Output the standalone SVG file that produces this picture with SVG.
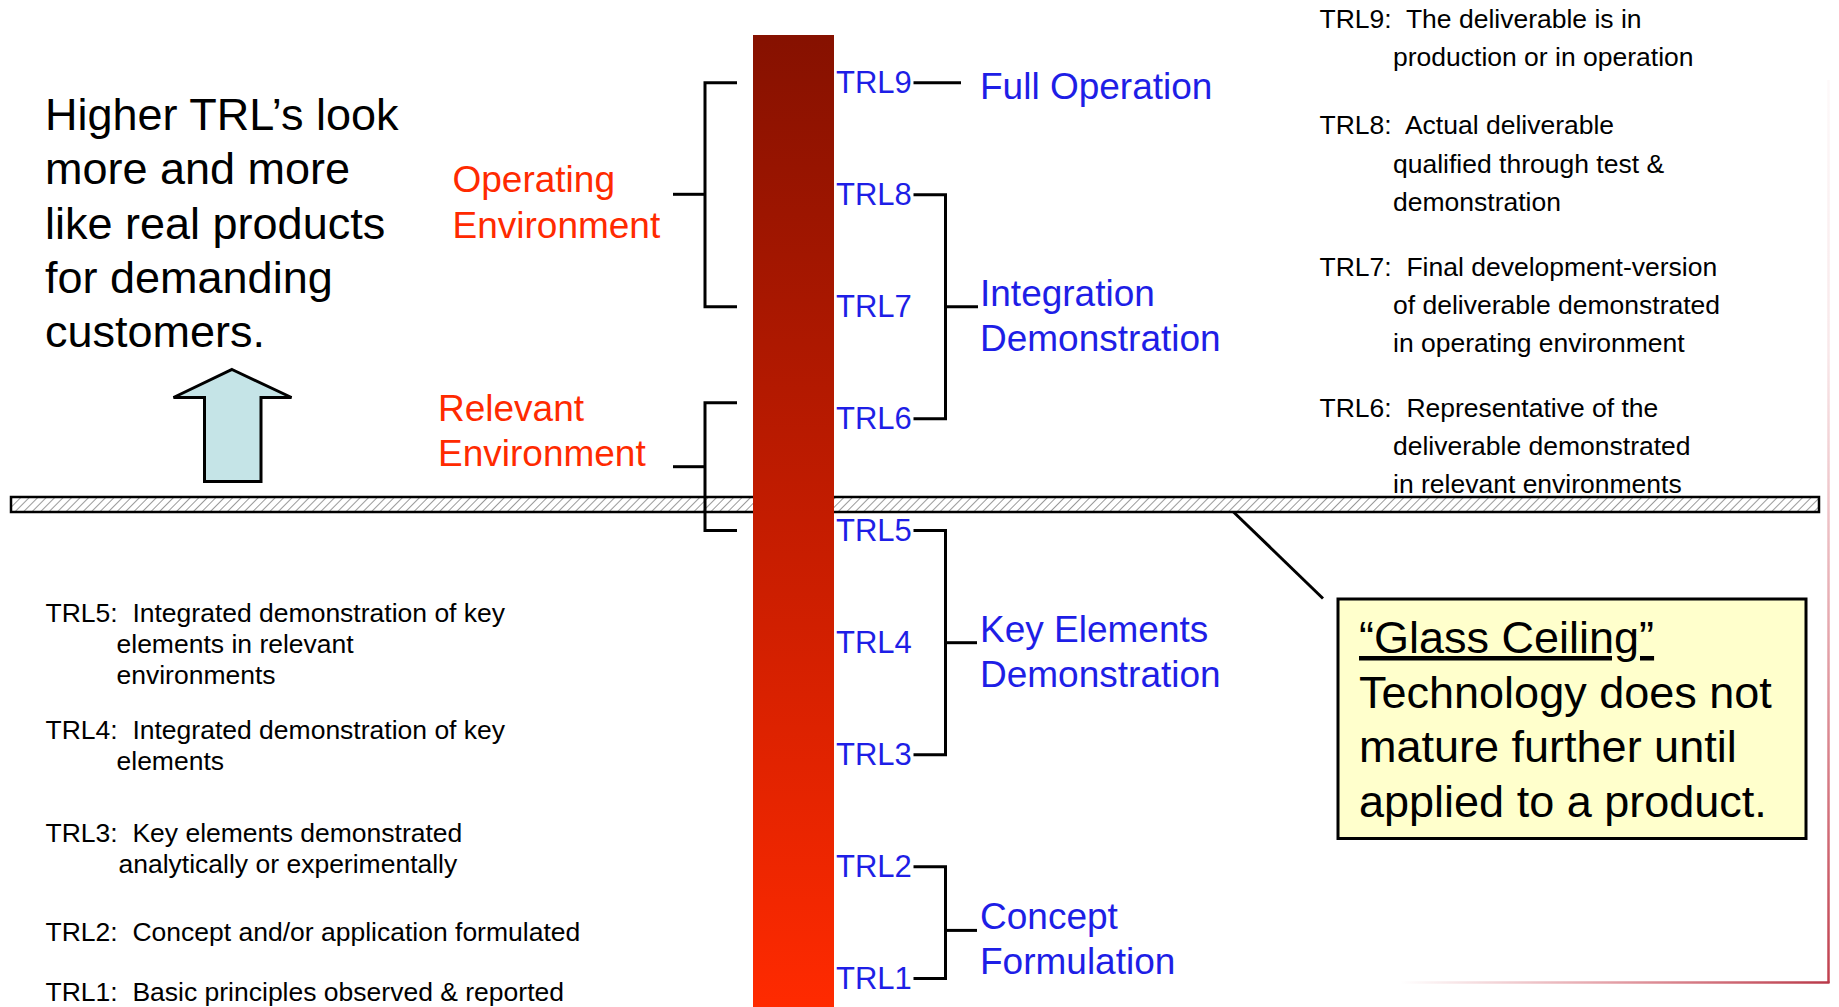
<svg xmlns="http://www.w3.org/2000/svg" width="1839" height="1007" viewBox="0 0 1839 1007">
<defs>
  <linearGradient id="barGrad" x1="0" y1="0" x2="0" y2="1">
    <stop offset="0" stop-color="#861100"/>
    <stop offset="0.5" stop-color="#c41c00"/>
    <stop offset="1" stop-color="#ff2a00"/>
  </linearGradient>
  <linearGradient id="vEdge" x1="0" y1="80" x2="0" y2="983" gradientUnits="userSpaceOnUse">
    <stop offset="0" stop-color="#c8404e" stop-opacity="0.03"/>
    <stop offset="0.3" stop-color="#c8404e" stop-opacity="0.12"/>
    <stop offset="0.6" stop-color="#c8404e" stop-opacity="0.45"/>
    <stop offset="1" stop-color="#c0404e" stop-opacity="1"/>
  </linearGradient>
  <linearGradient id="hEdge" x1="1400" y1="0" x2="1829" y2="0" gradientUnits="userSpaceOnUse">
    <stop offset="0" stop-color="#c8404e" stop-opacity="0"/>
    <stop offset="0.45" stop-color="#c8404e" stop-opacity="0.45"/>
    <stop offset="1" stop-color="#b83848" stop-opacity="1"/>
  </linearGradient>
  <pattern id="hatch" width="6" height="6" patternUnits="userSpaceOnUse" patternTransform="rotate(45)">
    <rect width="6" height="6" fill="#ffffff"/>
    <line x1="0" y1="0" x2="0" y2="6" stroke="#9a9a9a" stroke-width="2"/>
  </pattern>
</defs>
<style>
  .sans { font-family: "Liberation Sans", Arial, sans-serif; }
  .big { font-size: 45px; fill: #000; }
  .env { font-size: 37px; fill: #ff2a00; }
  .trl { font-size: 31px; fill: #1e1ee6; }
  .stage { font-size: 37px; fill: #1e1ee6; }
  .desc { font-size: 26.5px; fill: #000; }
  .conn { fill: none; stroke: #000; stroke-width: 3; }
</style>
<rect x="0" y="0" width="1839" height="1007" fill="#ffffff"/>

<g id="frame-edge">
  <line x1="1828.5" y1="80" x2="1828.5" y2="983" stroke="url(#vEdge)" stroke-width="2.5"/>
  <line x1="1400" y1="982.5" x2="1829.5" y2="982.5" stroke="url(#hEdge)" stroke-width="2.5"/>
</g>

<g id="glass-ceiling-band">
  <rect x="11" y="497" width="1808" height="15" fill="url(#hatch)" stroke="#000" stroke-width="2.5"/>
</g>

<g id="trl-bar">
  <rect x="753" y="35" width="81" height="972" fill="url(#barGrad)"/>
</g>

<g id="connectors">
  <path class="conn" d="M737,82.7 H705 V306.7 H737"/>
  <path class="conn" d="M673,194.3 H705"/>
  <path class="conn" d="M737,402.7 H705 V530.5 H737"/>
  <path class="conn" d="M673,466.7 H705"/>
  <path class="conn" d="M913.5,82.7 H961"/>
  <path class="conn" d="M913.5,194.7 H945.5 V418.7 H913.5"/>
  <path class="conn" d="M945.5,306.7 H978"/>
  <path class="conn" d="M913.5,530.5 H945.5 V754.7 H913.5"/>
  <path class="conn" d="M945.5,642.7 H977"/>
  <path class="conn" d="M913.5,866.7 H945.5 V978.5 H913.5"/>
  <path class="conn" d="M945.5,930.4 H977"/>
  <path class="conn" stroke-width="2.5" d="M1233.5,512 L1323,598.5"/>
</g>

<g id="headline" class="sans big">
  <text x="45" y="130">Higher TRL’s look</text>
  <text x="45" y="184">more and more</text>
  <text x="45" y="238.5">like real products</text>
  <text x="45" y="292.5">for demanding</text>
  <text x="45" y="347">customers.</text>
</g>

<g id="up-arrow">
  <polygon points="232,369.5 291.5,397.5 261,397.5 261,481.5 204.5,481.5 204.5,397.5 173.5,397.5" fill="#c5e4e7" stroke="#000" stroke-width="3" stroke-linejoin="miter"/>
</g>

<g id="operating-environment" class="sans env">
  <text x="452.5" y="191.5">Operating</text>
  <text x="452.5" y="238">Environment</text>
</g>

<g id="relevant-environment" class="sans env">
  <text x="438" y="420.5">Relevant</text>
  <text x="438" y="466">Environment</text>
</g>

<g id="trl-labels" class="sans trl">
  <text x="836" y="92.7">TRL9</text>
  <text x="836" y="204.7">TRL8</text>
  <text x="836" y="316.7">TRL7</text>
  <text x="836" y="428.7">TRL6</text>
  <text x="836" y="540.5">TRL5</text>
  <text x="836" y="652.7">TRL4</text>
  <text x="836" y="764.7">TRL3</text>
  <text x="836" y="876.7">TRL2</text>
  <text x="836" y="988.5">TRL1</text>
</g>

<g id="full-operation" class="sans stage">
  <text x="980" y="98.5">Full Operation</text>
</g>
<g id="integration-demonstration" class="sans stage">
  <text x="980" y="306">Integration</text>
  <text x="980" y="351">Demonstration</text>
</g>
<g id="key-elements-demonstration" class="sans stage">
  <text x="980" y="642">Key Elements</text>
  <text x="980" y="687">Demonstration</text>
</g>
<g id="concept-formulation" class="sans stage">
  <text x="980" y="929">Concept</text>
  <text x="980" y="974">Formulation</text>
</g>

<g id="upper-definitions" class="sans desc">
  <text x="1319.5" y="27.5">TRL9:&#160; The deliverable is in</text>
  <text x="1393" y="66">production or in operation</text>
  <text x="1319.5" y="134">TRL8:&#160; Actual deliverable</text>
  <text x="1393" y="172.5">qualified through test &amp;</text>
  <text x="1393" y="210.5">demonstration</text>
  <text x="1319.5" y="275.5">TRL7:&#160; Final development-version</text>
  <text x="1393" y="313.5">of deliverable demonstrated</text>
  <text x="1393" y="351.5">in operating environment</text>
  <text x="1319.5" y="417">TRL6:&#160; Representative of the</text>
  <text x="1393" y="455">deliverable demonstrated</text>
  <text x="1393" y="492.5">in relevant environments</text>
</g>

<g id="lower-definitions" class="sans desc">
  <text x="45.5" y="621.5">TRL5:&#160; Integrated demonstration of key</text>
  <text x="116.5" y="652.5">elements in relevant</text>
  <text x="116.5" y="684">environments</text>
  <text x="45.5" y="738.5">TRL4:&#160; Integrated demonstration of key</text>
  <text x="116.5" y="769.5">elements</text>
  <text x="45.5" y="841.5">TRL3:&#160; Key elements demonstrated</text>
  <text x="118.5" y="872.5">analytically or experimentally</text>
  <text x="45.5" y="940.5">TRL2:&#160; Concept and/or application formulated</text>
  <text x="45.5" y="1000.5">TRL1:&#160; Basic principles observed &amp; reported</text>
</g>

<g id="glass-ceiling-note">
  <rect x="1338" y="599" width="468" height="239.5" fill="#ffffcc" stroke="#000" stroke-width="3"/>
  <g class="sans big">
    <text x="1359" y="653" text-decoration="underline">“Glass Ceiling”</text>
    <text x="1359" y="707.5">Technology does not</text>
    <text x="1359" y="762">mature further until</text>
    <text x="1359" y="816.5">applied to a product.</text>
  </g>
</g>
</svg>
